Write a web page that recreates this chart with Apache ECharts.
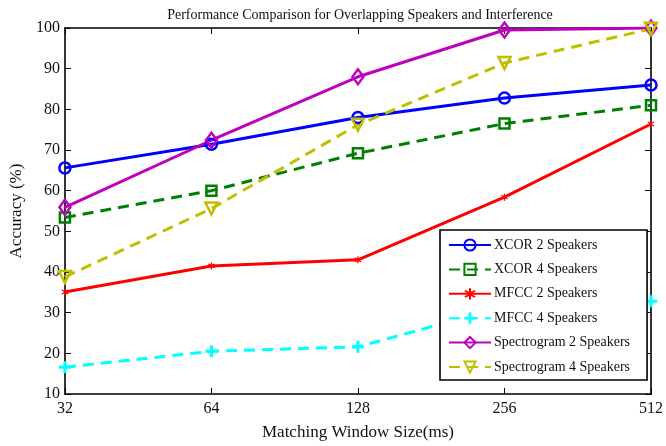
<!DOCTYPE html>
<html>
<head>
<meta charset="utf-8">
<script src="https://cdn.jsdelivr.net/npm/echarts@6/dist/echarts.min.js"></script>
<style>html,body{margin:0;padding:0;background:#fff;}#c{width:666px;height:446px;}</style>
</head>
<body>
<div id="c"></div>
<script>
const categories = ['32', '64', '128', '256', '512'];
const xcor2 = [65.6, 71.4, 78.0, 82.8, 86.0];
const xcor4 = [53.4, 60.0, 69.2, 76.5, 81.0];
const mfcc2 = [35.1, 41.5, 43.0, 58.4, 76.4];
const mfcc4 = [16.6, 20.5, 21.6, 31.5, 32.8];
const spec2 = [55.9, 72.4, 88.0, 99.5, 100];
const spec4 = [38.8, 55.6, 76.2, 91.4, 99.8];
const seriesNames = ['XCOR 2 Speakers', 'XCOR 4 Speakers', 'MFCC 2 Speakers', 'MFCC 4 Speakers', 'Spectrogram 2 Speakers', 'Spectrogram 4 Speakers'];

const FONT = '"Liberation Serif", "DejaVu Serif", serif';
const plusPath = 'path://M-1.5,-6 L1.5,-6 L1.5,-1.5 L6,-1.5 L6,1.5 L1.5,1.5 L1.5,6 L-1.5,6 L-1.5,1.5 L-6,1.5 L-6,-1.5 L-1.5,-1.5 Z';
const starPath = 'path://M-0.8,-5 L0.8,-5 L0.8,-1.9 L3.5,-3.5 L4.3,-2.1 L1.6,-0.6 L1.6,0.6 L4.3,2.1 L3.5,3.5 L0.8,1.9 L0.8,5 L-0.8,5 L-0.8,1.9 L-3.5,3.5 L-4.3,2.1 L-1.6,0.6 L-1.6,-0.6 L-4.3,-2.1 L-3.5,-3.5 L-0.8,-1.9 Z';

function mk(name, data, color, dashed, symbol, size, filled) {
  return {
    name: name,
    type: 'line',
    data: data,
    xAxisIndex: 0, yAxisIndex: 0,
    symbol: symbol,
    symbolSize: size,
    showAllSymbol: true,
    lineStyle: { color: color, width: 3, type: dashed ? [11, 7] : 'solid' },
    itemStyle: filled ? { color: color, borderWidth: 0 } : { color: 'rgba(255,255,255,0)', borderColor: color, borderWidth: 2.5 },
    emphasis: { disabled: true },
    z: 3,
    animation: false
  };
}

const chart = echarts.init(document.getElementById('c'), null, { renderer: 'canvas' });
const axisCommon = {
  axisLine: { show: true, onZero: false, lineStyle: { color: '#000', width: 1.6 } },
  axisTick: { show: true, inside: true, length: 6, lineStyle: { color: '#000', width: 1 } },
  splitLine: { show: false }
};
chart.setOption({
  animation: false,
  backgroundColor: '#fff',
  title: {
    text: 'Performance Comparison for Overlapping Speakers and Interference',
    left: 355, top: 3, textAlign: 'center',
    textStyle: { fontFamily: FONT, fontSize: 14, fontWeight: 'normal', color: '#111' }
  },
  grid: { left: 43, right: 13, top: 28, bottom: 51 },
  legend: {
    orient: 'vertical',
    left: 440, top: 230,
    padding: [8, 17, 6, 8],
    itemWidth: 42, itemHeight: 14, itemGap: 10.4,
    backgroundColor: '#fff',
    borderColor: '#000', borderWidth: 1.6,
    textStyle: { fontFamily: FONT, fontSize: 14, color: '#111', padding: [0, 0, 0, -2] },
    data: seriesNames
  },
  xAxis: [
    Object.assign({
      type: 'category', data: categories, boundaryGap: false, position: 'bottom',
      axisLabel: { fontFamily: FONT, fontSize: 16, color: '#111', margin: 7 },
      name: 'Matching Window Size(ms)', nameLocation: 'middle', nameGap: 30,
      nameTextStyle: { fontFamily: FONT, fontSize: 17, color: '#111' }
    }, axisCommon),
    Object.assign({
      type: 'category', data: categories, boundaryGap: false, position: 'top',
      axisLabel: { show: false }
    }, axisCommon)
  ],
  yAxis: [
    Object.assign({
      type: 'value', min: 10, max: 100, interval: 10, position: 'left',
      axisLabel: { fontFamily: FONT, fontSize: 16, color: '#111', margin: 5 },
      name: 'Accuracy (%)', nameLocation: 'middle', nameGap: 22,
      nameTextStyle: { fontFamily: FONT, fontSize: 17, color: '#111' }
    }, axisCommon),
    Object.assign({
      type: 'value', min: 10, max: 100, interval: 10, position: 'right',
      axisLabel: { show: false }
    }, axisCommon)
  ],
  series: [
    mk(seriesNames[0], xcor2, '#0000ff', false, 'circle', 11, false),
    mk(seriesNames[1], xcor4, '#008000', true, 'rect', 10, false),
    mk(seriesNames[2], mfcc2, '#ff0000', false, starPath, 7, true),
    mk(seriesNames[3], mfcc4, '#00ffff', true, plusPath, 12, true),
    mk(seriesNames[4], spec2, '#bf00bf', false, 'diamond', [11, 15], false),
    mk(seriesNames[5], spec4, '#bfbf00', true, 'path://M-6,-5 L6,-5 L0,6 Z', 12, false)
  ]
});
</script>
</body>
</html>
